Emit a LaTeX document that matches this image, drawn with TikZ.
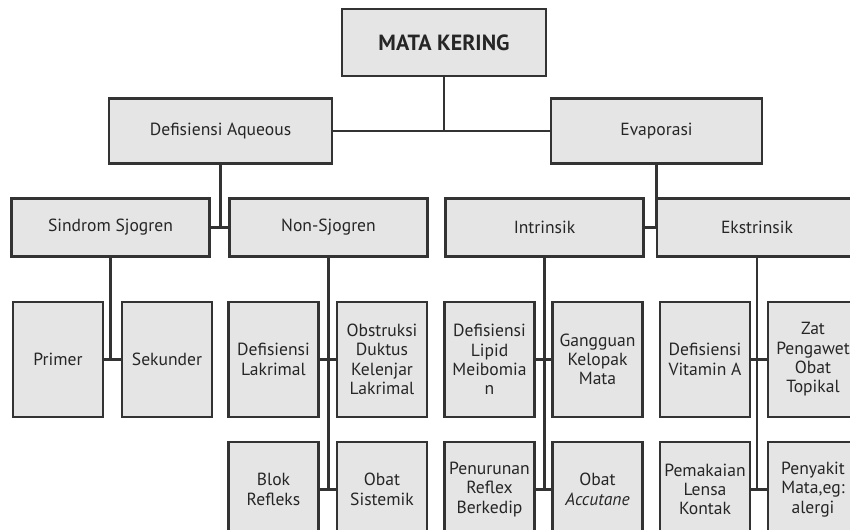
\documentclass[tikz,border=0pt]{standalone}
\usepackage{fontspec}
\setmainfont{PT Sans}
\usepackage{tikz}
\definecolor{boxline}{HTML}{333333}
\definecolor{boxfill}{HTML}{E5E5E5}
\definecolor{boxtext}{HTML}{262626}

\begin{document}
\begin{tikzpicture}[x=0.02cm, y=-0.02cm,
  line width=1.6pt, draw=boxline,
  box/.style={draw=boxline, fill=boxfill, text=boxtext, font=\fontsize{10}{11}\selectfont,
    align=center, inner xsep=1pt, line width=1.6pt},
  headbox/.style={box, minimum width=4.46cm, minimum height=1.3cm},
  subbox/.style={box, minimum width=3.96cm, minimum height=1.16cm},
  leafbox/.style={box, minimum width=1.8cm, minimum height=2.3cm},
  lowbox/.style={box, minimum width=1.8cm, minimum height=1.9cm}]
\path[use as bounding box, clip] (0, 0) rectangle (850, 530);
% top level
\node[box, minimum width=4.08cm, minimum height=1.34cm, font=\fontsize{12.5}{14}\selectfont\bfseries] (top) at (444, 42.5) {MATA KERING};
\node[headbox] (aq) at (220.5, 131) {Defisiensi Aqueous};
\node[headbox, minimum width=4.22cm] (ev) at (656.5, 131) {Evaporasi};
% second level
\node[subbox] (ss) at (110.5, 227.5) {Sindrom Sjogren};
\node[subbox] (ns) at (328.5, 227.5) {Non-Sjogren};
\node[subbox] (intr) at (544.5, 227.5) {Intrinsik};
\node[subbox, minimum width=4cm] (ekst) at (757, 227.5) {Ekstrinsik};
% leaves
\node[leafbox] (pr) at (58, 359.5) {Primer};
\node[leafbox] (sk) at (167, 359.5) {Sekunder};
\node[leafbox] (dl) at (273.5, 359.5) {Defisiensi\\Lakrimal};
\node[leafbox] (ob) at (382, 359.5) {Obstruksi\\Duktus\\Kelenjar\\Lakrimal};
\node[leafbox] (lm) at (489.5, 359.5) {Defisiensi\\Lipid\\Meibomia\\n};
\node[leafbox] (gk) at (597.5, 359.5) {Gangguan\\Kelopak\\Mata};
\node[leafbox] (va) at (705, 359.5) {Defisiensi\\Vitamin A};
\node[leafbox] (zp) at (813, 359.5) {Zat\\Pengawet\\Obat\\Topikal};
\node[lowbox] (bl) at (273.5, 489.5) {Blok\\Refleks};
\node[lowbox] (os) at (382, 489.5) {Obat\\Sistemik};
\node[lowbox] (rb) at (489.5, 489.5) {Penurunan\\Reflex\\Berkedip};
\node[lowbox] (oa) at (597.5, 489.5) {Obat\\\textit{Accutane}};
\node[lowbox] (lk) at (705, 489.5) {Pemakaian\\Lensa\\Kontak};
\node[lowbox] (pm) at (813, 489.5) {Penyakit\\Mata,eg:\\alergi};
% connectors
\draw (top.south) -- (top.south |- aq.east);
\draw (aq.east) -- (ev.west);
\draw (aq.south) -- (aq.south |- ss.east);
\draw (ss.east) -- (ns.west);
\draw (ev.south) -- (ev.south |- intr.east);
\draw (intr.east) -- (ekst.west);
\draw (ss.south) -- (ss.south |- pr.east);
\draw (pr.east) -- (sk.west);
\draw (ns.south) -- (ns.south |- bl.east);
\draw (dl.east) -- (ob.west);
\draw (bl.east) -- (os.west);
\draw (intr.south) -- (intr.south |- rb.east);
\draw (lm.east) -- (gk.west);
\draw (rb.east) -- (oa.west);
\draw (ekst.south) -- (ekst.south |- lk.east);
\draw (va.east) -- (zp.west);
\draw (lk.east) -- (pm.west);
\end{tikzpicture}
\end{document}
